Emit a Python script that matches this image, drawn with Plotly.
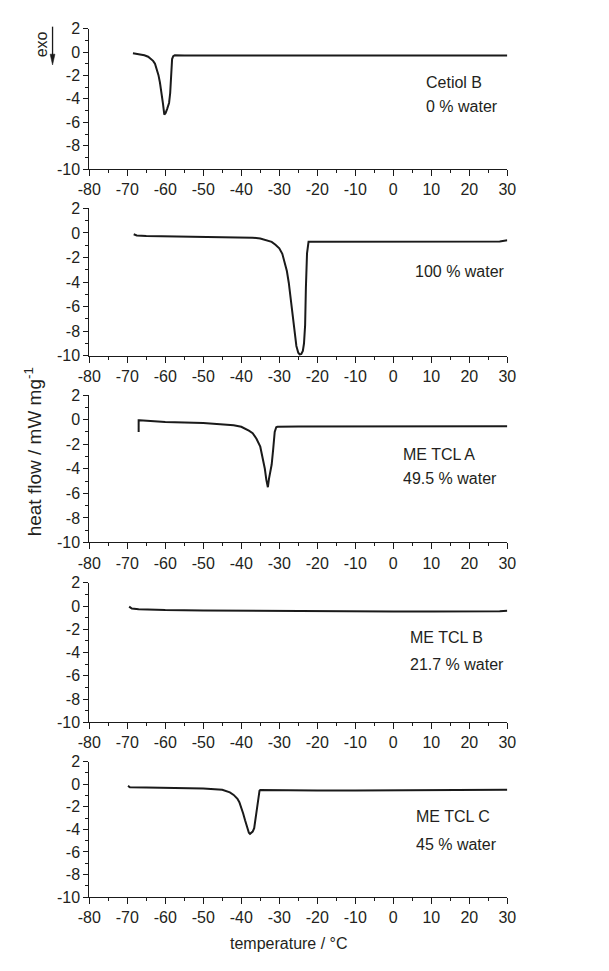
import plotly.graph_objects as go

W, H = 609, 971

# ---------------- data ----------------
cetiol_x = [-68.5, -67.5, -66.5, -65.5, -64.5, -63.8, -63.2, -62.7, -62.2, -61.8, -61.4, -61.0, -60.6, -60.25,
            -59.9, -59.5, -59.0, -58.7, -58.4, -58.2, -57.9, -57.5, -55, -50, -40, -30, -20, -10, 0, 10, 20, 30]
cetiol_y = [-0.1, -0.15, -0.2, -0.28, -0.4, -0.55, -0.75, -1.0, -1.45, -1.95, -2.6, -3.4, -4.4, -5.35,
            -5.2, -4.85, -4.35, -3.5, -2.0, -0.6, -0.35, -0.28, -0.3, -0.3, -0.3, -0.3, -0.3, -0.32, -0.35, -0.33,
            -0.33, -0.3]

water_x = [-68.3, -67.5, -65, -60, -50, -40, -37, -35, -33, -32, -31, -30, -29.2, -28.5, -28, -27.5, -27, -26.5,
           -26.0, -25.5, -25, -24.6, -24.2, -23.8, -23.5, -23.2, -23.0, -22.7, -22.3, -20, -10, 0, 10, 20, 25, 28, 30]
water_y = [-0.1, -0.2, -0.25, -0.27, -0.3, -0.32, -0.38, -0.45, -0.6, -0.72, -0.95, -1.25, -1.7, -2.45, -3.1, -4.05,
           -5.3, -6.9, -8.2, -9.2, -9.75, -9.9, -9.85, -9.6, -9.0, -7.5, -4.5, -1.65, -0.72, -0.72, -0.72, -0.72,
           -0.75, -0.75, -0.75, -0.7, -0.6]

tcla_x = [-67, -67, -66.8, -65, -60, -50, -45, -42, -40, -39, -38, -37, -36, -35, -34.3, -33.8, -33.4, -33, -32.7,
          -32.4, -32, -31.6, -31.2, -30.8, -30.5, -25, -20, -10, 0, 10, 20, 30]
tcla_y = [-1.0, -0.05, -0.05, -0.1, -0.2, -0.27, -0.35, -0.45, -0.58, -0.72, -0.9, -1.1, -1.55, -2.2, -3.1, -4.0,
          -4.9, -5.5, -4.8, -4.3, -3.65, -2.4, -1.0, -0.62, -0.58, -0.55, -0.55, -0.55, -0.55, -0.57, -0.57, -0.53]

tclb_x = [-69.5, -68.8, -67, -65, -60, -50, -40, -30, -20, -10, -5, 0, 10, 20, 28, 30]
tclb_y = [-0.05, -0.22, -0.27, -0.3, -0.35, -0.38, -0.4, -0.43, -0.45, -0.48, -0.53, -0.48, -0.48, -0.48, -0.45, -0.4]

tclc_x = [-69.8, -69.3, -65, -60, -50, -45, -44, -43, -42, -41, -40.5, -40, -39.5, -39, -38.5, -38.0, -37.7, -37.3,
          -37, -36.6, -36.2, -35.8, -35.5, -35.2, -35, -30, -20, -10, 0, 10, 20, 30]
tclc_y = [-0.15, -0.27, -0.3, -0.32, -0.38, -0.5, -0.6, -0.73, -0.95, -1.3, -1.6, -2.04, -2.6, -3.2, -3.8, -4.3,
          -4.4, -4.3, -4.2, -3.9, -2.9, -1.6, -0.9, -0.58, -0.52, -0.55, -0.55, -0.55, -0.55, -0.53, -0.53, -0.5]

series_x = [cetiol_x, water_x, tcla_x, tclb_x, tclc_x]
series_y = [cetiol_y, water_y, tcla_y, tclb_y, tclc_y]
labels = [["Cetiol B", "0 % water"], ["100 % water"], ["ME TCL A", "49.5 % water"],
          ["ME TCL B", "21.7 % water"], ["ME TCL C", "45 % water"]]

x_ticks = [-80, -70, -60, -50, -40, -30, -20, -10, 0, 10, 20, 30]
x_ticktext = ["-80", "-70", "-60", "-50", "-40", "-30", "-20", "-10", "0", "10", "20", "30"]
y_ticks = [2, 0, -2, -4, -6, -8, -10]
y_ticktext = ["2", "0", "-2", "-4", "-6", "-8", "-10"]

x_title = "temperature / °C"
y_title = "heat flow / mW mg<sup>-1</sup>"

# ---------------- layout geometry (pixels) ----------------
panels_px = [(21, 164), (204, 354), (394, 544), (585, 727), (767, 905)]
x_left, x_right = 80, 513
label_pos = [[(427, 76), (427, 100)], [(415, 268)], [(403, 454), (403, 479)],
             [(410, 641), (410, 668)], [(416, 823), (416, 851)]]

FONT = "Liberation Sans, Arial, sans-serif"
TXT = "#231f20"
LINE = "#1a1a1a"


def px(x):
    return x / W


def py(y):
    return 1 - y / H


fig = go.Figure()
layout = dict(
    width=W, height=H, margin=dict(l=0, r=0, t=0, b=0),
    paper_bgcolor="white", plot_bgcolor="white",
    showlegend=False, font=dict(family=FONT, size=16, color=TXT),
)
annotations = []
for i, (xs, ys) in enumerate(zip(series_x, series_y)):
    n = "" if i == 0 else str(i + 1)
    fig.add_trace(go.Scatter(x=xs, y=ys, mode="lines", line=dict(color=LINE, width=2),
                             xaxis="x" + n, yaxis="y" + n, hoverinfo="skip"))
    top, bot = panels_px[i]
    layout["xaxis" + n] = dict(
        domain=[px(x_left), px(x_right)], anchor="y" + n, range=[-80, 30],
        tickmode="array", tickvals=x_ticks, ticktext=x_ticktext,
        ticks="outside", ticklen=6, tickwidth=1, tickcolor=LINE,
        showline=True, linecolor=LINE, linewidth=1, showgrid=False, zeroline=False,
        minor=dict(ticks="outside", ticklen=3, tickmode="linear", tick0=-80, dtick=5, tickcolor=LINE),
        tickfont=dict(size=16, color=TXT), fixedrange=True,
    )
    layout["yaxis" + n] = dict(
        domain=[py(bot), py(top)], anchor="x" + n, range=[-10, 2],
        tickmode="array", tickvals=y_ticks, ticktext=y_ticktext,
        ticks="outside", ticklen=5, tickwidth=1, tickcolor=LINE,
        showline=True, linecolor=LINE, linewidth=1, showgrid=False, zeroline=False,
        minor=dict(ticks="outside", ticklen=3, tickmode="linear", tick0=0, dtick=1, tickcolor=LINE),
        tickfont=dict(size=16, color=TXT), fixedrange=True,
    )
    for txt, (lx, ly) in zip(labels[i], label_pos[i]):
        annotations.append(dict(text=txt, x=px(lx), y=py(ly), xref="paper", yref="paper",
                                xanchor="left", yanchor="middle", showarrow=False,
                                font=dict(size=16, color=TXT)))

annotations.append(dict(text=x_title, x=px(287), y=py(952), xref="paper", yref="paper",
                        xanchor="center", yanchor="middle", showarrow=False, font=dict(size=16, color=TXT)))
annotations.append(dict(text=y_title, x=px(22), y=py(452), xref="paper", yref="paper",
                        xanchor="center", yanchor="middle", showarrow=False, textangle=-90,
                        font=dict(size=19, color=TXT)))
annotations.append(dict(text="exo", x=px(30), y=py(37), xref="paper", yref="paper",
                        xanchor="center", yanchor="middle", showarrow=False, textangle=-90,
                        font=dict(size=16, color=TXT)))
layout["annotations"] = annotations

# "exo" arrow: shaft and filled head
layout["shapes"] = [
    dict(type="line", xref="paper", yref="paper", x0=px(42), x1=px(42), y0=py(19), y1=py(50),
         line=dict(color=LINE, width=1.3)),
    dict(type="path", xref="paper", yref="paper",
         path=f"M {px(39.5)} {py(47)} L {px(44.5)} {py(47)} L {px(42)} {py(58)} Z",
         fillcolor=LINE, line=dict(color=LINE, width=0.5)),
]
fig.update_layout(**layout)
fig.write_html("out.html")
